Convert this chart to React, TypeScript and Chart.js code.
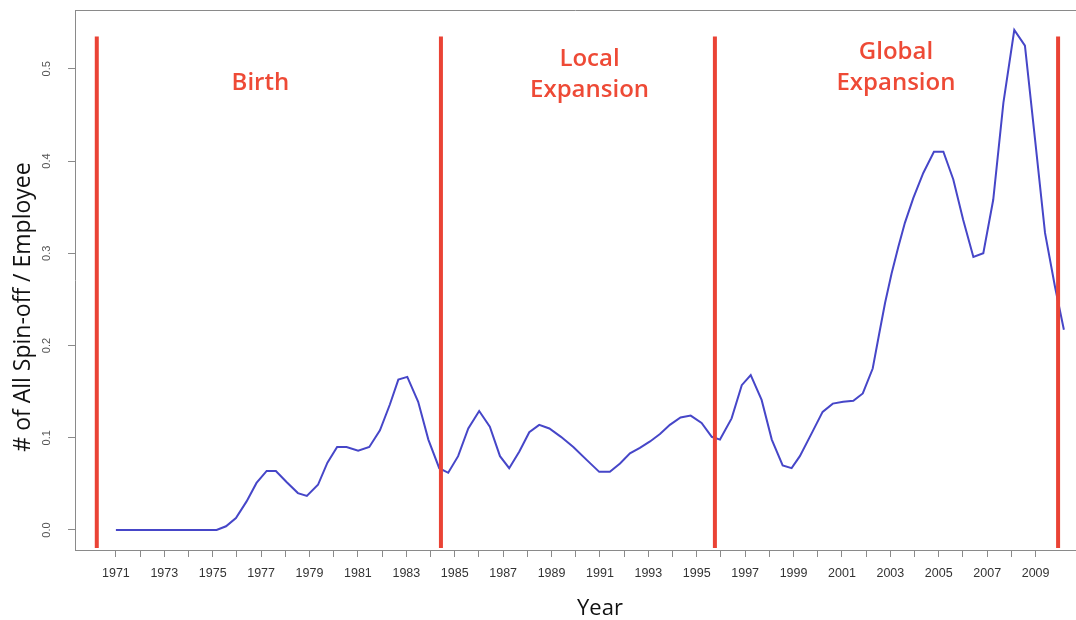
import { useEffect, useRef } from 'react';
import { Chart, registerables } from 'chart.js';

Chart.register(...registerables);

// ---- data ----
const curveYears = [
  1971.0, 1975.16, 1975.55, 1975.96, 1976.4, 1976.81, 1977.23, 1977.61, 1978.05, 1978.52,
  1978.89, 1979.35, 1979.74, 1980.14, 1980.53, 1981.01, 1981.47, 1981.91, 1982.32, 1982.67,
  1983.04, 1983.49, 1983.91, 1984.36, 1984.73, 1985.14, 1985.56, 1986.01, 1986.45, 1986.87,
  1987.25, 1987.67, 1988.08, 1988.49, 1988.91, 1989.39, 1989.9, 1990.45, 1990.97, 1991.41,
  1991.83, 1992.24, 1992.65, 1993.07, 1993.48, 1993.89, 1994.33, 1994.75, 1995.2, 1995.62,
  1995.96, 1996.44, 1996.86, 1997.23, 1997.68, 1998.1, 1998.55, 1998.92, 1999.26, 1999.81,
  2000.2, 2000.62, 2001.05, 2001.47, 2001.86, 2002.27, 2002.54, 2002.78, 2003.05, 2003.33,
  2003.6, 2003.95, 2004.36, 2004.8, 2005.19, 2005.6, 2006.01, 2006.43, 2006.84, 2007.25,
  2007.67, 2008.12, 2008.56, 2008.98, 2009.39, 2009.8, 2010.17,
];
const curveValues = [
  0.0, 0.0, 0.004, 0.013, 0.031, 0.051, 0.064, 0.064, 0.052, 0.04,
  0.037, 0.049, 0.073, 0.09, 0.09, 0.086, 0.09, 0.108, 0.136, 0.163,
  0.166, 0.139, 0.098, 0.067, 0.062, 0.08, 0.11, 0.129, 0.112, 0.08,
  0.067, 0.085, 0.106, 0.114, 0.11, 0.101, 0.09, 0.076, 0.063, 0.063,
  0.072, 0.083, 0.089, 0.096, 0.104, 0.114, 0.122, 0.124, 0.116, 0.101,
  0.098, 0.121, 0.157, 0.168, 0.141, 0.098, 0.07, 0.067, 0.08, 0.108,
  0.128, 0.137, 0.139, 0.14, 0.148, 0.175, 0.213, 0.246, 0.278, 0.307,
  0.333, 0.36, 0.387, 0.41, 0.41, 0.38, 0.336, 0.296, 0.3, 0.358,
  0.463, 0.542, 0.525, 0.423, 0.322, 0.264, 0.217,
];
const phaseLineYears = [1970.21, 1984.43, 1995.75, 2009.93];
const phaseLineSpan = [-0.0195, 0.535];
const phaseNames = [['Birth'], ['Local', 'Expansion'], ['Global', 'Expansion']];
const xTickYears = [
  1971, 1972, 1973, 1974, 1975, 1976, 1977, 1978, 1979, 1980, 1981, 1982, 1983,
  1984, 1985, 1986, 1987, 1988, 1989, 1990, 1991, 1992, 1993, 1994, 1995, 1996,
  1997, 1998, 1999, 2000, 2001, 2002, 2003, 2004, 2005, 2006, 2007, 2008, 2009,
];
const xLabelYears = [
  1971, 1973, 1975, 1977, 1979, 1981, 1983, 1985, 1987, 1989, 1991, 1993, 1995,
  1997, 1999, 2001, 2003, 2005, 2007, 2009,
];
const yTickValues = [0, 0.1, 0.2, 0.3, 0.4, 0.5];
const yTickLabels = ['0.0', '0.1', '0.2', '0.3', '0.4', '0.5'];
const xTitle = 'Year';
const yTitle = '# of All Spin-off / Employee';

// ---- layout / style ----
const W = 1076;
const H = 620;
const X_MIN = 1969.31;
const X_MAX = 2010.67;
const Y_MIN = -0.0217;
const Y_MAX = 0.5637;
const phaseTextLayout = [
  { x: 1976.97, baselines: [90] },
  { x: 1990.57, baselines: [66, 97] },
  { x: 2003.23, baselines: [59, 90] },
];
const AXIS_GREY = '#8a8a8a';
const RED = '#ea4335';
const RED_TEXT = '#ee4a36';
const BLUE = '#4646c8';

const overlayPlugin = {
  id: 'overlay',
  afterDraw(chart: any) {
    const { ctx, chartArea, scales } = chart;
    const xs = scales.x;
    const ys = scales.y;
    ctx.save();
    // top frame line
    ctx.strokeStyle = AXIS_GREY;
    ctx.lineWidth = 1;
    ctx.beginPath();
    ctx.moveTo(chartArea.left, Math.round(chartArea.top) + 0.5);
    ctx.lineTo(W, Math.round(chartArea.top) + 0.5);
    ctx.stroke();

    // rotated y tick labels
    ctx.fillStyle = '#555';
    ctx.font = '11px "Liberation Sans", Arial, sans-serif';
    ctx.textAlign = 'center';
    ctx.textBaseline = 'middle';
    yTickValues.forEach((v, i) => {
      const py = ys.getPixelForValue(v);
      ctx.save();
      ctx.translate(chartArea.left - 28, py);
      ctx.rotate(-Math.PI / 2);
      ctx.fillText(yTickLabels[i], 0, 0);
      ctx.restore();
    });

    // phase names
    ctx.fillStyle = RED_TEXT;
    ctx.font = '600 24px "Open Sans", sans-serif';
    ctx.textAlign = 'center';
    ctx.textBaseline = 'alphabetic';
    phaseNames.forEach((lines, i) => {
      const lay = phaseTextLayout[i];
      const px = xs.getPixelForValue(lay.x);
      lines.forEach((t, j) => ctx.fillText(t, px, lay.baselines[j]));
    });

    // axis titles
    ctx.fillStyle = '#111';
    ctx.font = '22px "Open Sans", sans-serif';
    ctx.textAlign = 'center';
    ctx.textBaseline = 'alphabetic';
    ctx.fillText(xTitle, 600, 615);

    ctx.save();
    ctx.font = '23px "Open Sans", sans-serif';
    ctx.textBaseline = 'middle';
    ctx.translate(23, 307);
    ctx.rotate(-Math.PI / 2);
    ctx.fillText(yTitle, 0, 0);
    ctx.restore();

    ctx.restore();
  },
};

export default function App() {
  const ref = useRef<HTMLCanvasElement>(null);

  useEffect(() => {
    if (!ref.current) return;
    const curve = curveYears.map((x, i) => ({ x, y: curveValues[i] }));
    const phaseSets = phaseLineYears.map((yr) => ({
      data: [
        { x: yr, y: phaseLineSpan[0] },
        { x: yr, y: phaseLineSpan[1] },
      ],
      borderColor: RED,
      borderWidth: 4,
      pointRadius: 0,
      tension: 0,
      order: 0,
      borderCapStyle: 'butt' as const,
    }));
    const chart = new Chart(ref.current, {
      type: 'line',
      data: {
        datasets: [
          ...phaseSets,
          {
            data: curve,
            borderColor: BLUE,
            borderWidth: 2,
            pointRadius: 0,
            tension: 0,
            order: 1,
          },
        ],
      },
      options: {
        responsive: false,
        animation: false,
        events: [],
        layout: { padding: { top: 10, left: 0, right: 0, bottom: 0 } },
        plugins: { legend: { display: false }, tooltip: { enabled: false } },
        scales: {
          x: {
            type: 'linear',
            min: X_MIN,
            max: X_MAX,
            afterBuildTicks: (s: any) => {
              s.ticks = xTickYears.map((v) => ({ value: v }));
            },
            afterFit: (s: any) => {
              s.height = 70;
            },
            grid: { drawOnChartArea: false, drawTicks: true, tickLength: 7, color: AXIS_GREY },
            border: { display: true, color: AXIS_GREY, width: 1 },
            ticks: {
              autoSkip: false,
              maxRotation: 0,
              minRotation: 0,
              padding: 9,
              color: '#333',
              font: { family: '"Liberation Sans", Arial, sans-serif', size: 12.5 },
              callback: (v: any) => (xLabelYears.includes(Number(v)) ? String(v) : ''),
            },
          },
          y: {
            type: 'linear',
            min: Y_MIN,
            max: Y_MAX,
            afterBuildTicks: (s: any) => {
              s.ticks = yTickValues.map((v) => ({ value: v }));
            },
            afterFit: (s: any) => {
              s.width = 75;
            },
            grid: { drawOnChartArea: false, drawTicks: true, tickLength: 7, color: AXIS_GREY },
            border: { display: true, color: AXIS_GREY, width: 1 },
            ticks: { display: false },
          },
        },
      },
      plugins: [overlayPlugin],
    });
    return () => chart.destroy();
  }, []);

  return (
    <div style={{ position: 'fixed', left: 0, top: 0, width: W, height: H, background: '#fff' }}>
      <canvas ref={ref} width={W} height={H} style={{ display: 'block', width: W, height: H }} />
    </div>
  );
}
